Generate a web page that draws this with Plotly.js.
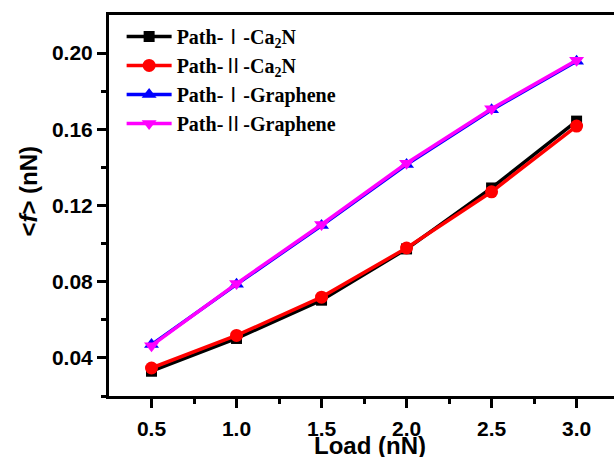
<!DOCTYPE html>
<html>
<head>
<meta charset="utf-8">
<script src="https://cdn.plot.ly/plotly-3.0.1.min.js"></script>
<style>html,body{margin:0;padding:0;background:#fff;}#chart{width:614px;height:457px;}</style>
</head>
<body>
<div id="chart"></div>
<script>
const loads = [0.5, 1.0, 1.5, 2.0, 2.5, 3.0];
const pathI_Ca2N = [0.033, 0.0502, 0.0703, 0.0972, 0.1292, 0.1643];
const pathII_Ca2N = [0.0347, 0.0518, 0.0719, 0.0977, 0.1272, 0.1617];
const pathI_Graphene = [0.0470, 0.0786, 0.1095, 0.1415, 0.1702, 0.1957];
const pathII_Graphene = [0.0464, 0.0790, 0.1100, 0.1422, 0.1708, 0.1962];
const rI = "<span style=\"font-family:'Noto Sans CJK SC';font-weight:normal\">Ⅰ</span>";
const rII = "<span style=\"font-family:'Noto Sans CJK SC';font-weight:normal\">Ⅱ</span>";
const names = ["Path-" + rI + "-Ca<sub>2</sub>N", "Path-" + rII + "-Ca<sub>2</sub>N", "Path-" + rI + "-Graphene", "Path-" + rII + "-Graphene"];
const xTicks = [0.5, 1.0, 1.5, 2.0, 2.5, 3.0];
const xTickText = ["0.5", "1.0", "1.5", "2.0", "2.5", "3.0"];
const yTicks = [0.04, 0.08, 0.12, 0.16, 0.20];
const yTickText = ["0.04", "0.08", "0.12", "0.16", "0.20"];
const xTitle = "Load (nN)";
const yTitle = "&lt;<i>f</i>&gt; (nN)";

const series = [pathI_Ca2N, pathII_Ca2N, pathI_Graphene, pathII_Graphene];
const colors = ["#000000", "#ff0000", "#0000ff", "#ff00ff"];
const symbols = ["square", "circle", "triangle-up", "triangle-down"];
const sizes = [11, 13, 13, 13];

const traces = series.map((s, i) => ({
  x: loads, y: s, name: names[i], type: "scatter", mode: "lines+markers",
  line: {color: colors[i], width: 3.5},
  marker: {color: colors[i], symbol: symbols[i], size: sizes[i]}
}));

const tickFont = {family: "Liberation Sans, Arial, sans-serif", size: 21, color: "#000", weight: "bold"};
const titleFont = {family: "Liberation Sans, Arial, sans-serif", size: 24, color: "#000", weight: "bold"};
const layout = {
  width: 614, height: 457,
  margin: {l: 109, r: 0, t: 15, b: 61},
  paper_bgcolor: "#fff", plot_bgcolor: "#fff",
  showlegend: true,
  legend: {x: 0.025, y: 0.995, xanchor: "left", yanchor: "top", bgcolor: "rgba(0,0,0,0)",
    font: {family: "Liberation Serif, Times New Roman, serif", size: 20, color: "#000", weight: "bold"},
    itemwidth: 45, tracegroupgap: 0},
  xaxis: {
    range: [0.25, 3.22], tickvals: xTicks, ticktext: xTickText,
    showgrid: false, zeroline: false, showline: true, linecolor: "#000", linewidth: 3,
    mirror: true, ticks: "outside", ticklen: 9, tickwidth: 3, tickcolor: "#000",
    ticklabelstandoff: 3,
    minor: {ticks: "outside", ticklen: 5, tickwidth: 3, tickcolor: "#000", tickvals: [0.75, 1.25, 1.75, 2.25, 2.75, 3.25]},
    tickfont: tickFont
  },
  yaxis: {
    range: [0.02, 0.22], tickvals: yTicks, ticktext: yTickText,
    showgrid: false, zeroline: false, showline: true, linecolor: "#000", linewidth: 3,
    mirror: false, ticks: "outside", ticklen: 9, tickwidth: 3, tickcolor: "#000",
    minor: {ticks: "outside", ticklen: 5, tickwidth: 3, tickcolor: "#000", tickvals: [0.02, 0.06, 0.10, 0.14, 0.18]},
    tickfont: tickFont
  },
  annotations: [
    {text: xTitle, xref: "paper", yref: "paper", x: 0.517, y: -0.13, xanchor: "center", yanchor: "middle", showarrow: false, font: titleFont, borderpad: 0},
    {text: yTitle, xref: "paper", yref: "paper", x: -0.160, y: 0.537, xanchor: "center", yanchor: "middle", textangle: -90, showarrow: false, font: titleFont}
  ]
};
Plotly.newPlot("chart", traces, layout, {displayModeBar: false, staticPlot: true});
</script>
</body>
</html>
